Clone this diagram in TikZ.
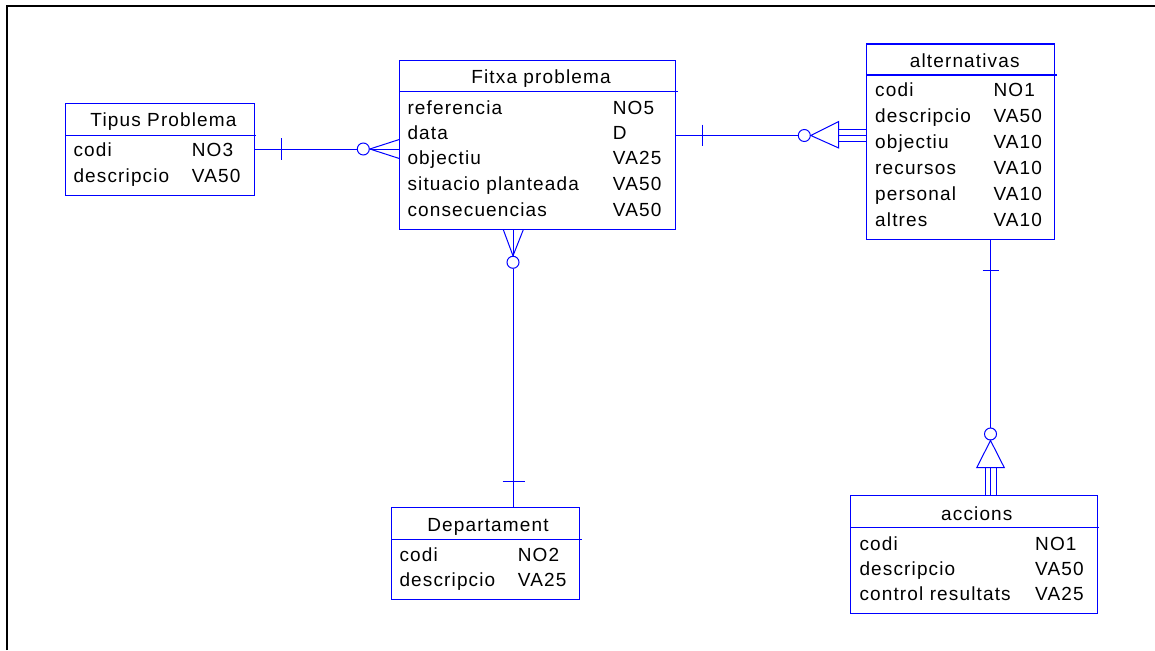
\documentclass[tikz,border=0pt]{standalone}
\usepackage{fontspec}
\newfontfamily\erfont{Liberation Sans}[LetterSpace=6]
\usetikzlibrary{calc}
\definecolor{erblue}{RGB}{0,0,255}
\definecolor{ertext}{RGB}{0,0,0}
\begin{document}
\begin{tikzpicture}[x=1pt,y=-1pt,
  ent/.style={rectangle,inner sep=0pt,anchor=north west},
  box/.style={draw=erblue,line width=1.2pt},
  rel/.style={draw=erblue,line width=1pt},
  txt/.style={inner sep=0pt,anchor=base west,text=ertext,font=\erfont\fontsize{19}{23}\selectfont},
  ttl/.style={inner sep=0pt,anchor=base,text=ertext,font=\erfont\fontsize{19}{23}\selectfont},
  circ/.style={circle,draw=erblue,line width=1pt,minimum size=12pt,inner sep=0pt}]
\useasboundingbox (0,0) rectangle (1155,650);
\draw[line width=1.6pt] (6.8,650) -- (6.8,6.3) -- (1155,6.3);

% ---------- Tipus Problema ----------
\node[ent,minimum width=188pt,minimum height=92pt] (tipus) at (65.7,103.3) {};
\draw[box] (tipus.north west) rectangle (tipus.south east);
\draw[box] (65.7,135.3) -- (256,135.3);
\node[ttl] (tipusT) at (163.5,126.7) {Tipus Problema};
\node[txt] (tipusA1) at (73.3,156.7) {codi};
\node[txt] (tipusB1) at (191.7,156.7) {NO3};
\node[txt] (tipusA2) at (73.3,182.7) {descripcio};
\node[txt] (tipusB2) at (191.7,182.7) {VA50};

% ---------- Fitxa problema ----------
\node[ent,minimum width=276pt,minimum height=169pt] (fitxa) at (399.3,60.3) {};
\draw[box] (fitxa.north west) rectangle (fitxa.south east);
\draw[box] (399.3,91.3) -- (677.7,91.3);
\node[ttl] (fitxaT) at (541,84) {Fitxa problema};
\node[txt] (fitxaA1) at (407.3,114.3) {referencia};
\node[txt] (fitxaB1) at (612.7,114.3) {NO5};
\node[txt] (fitxaA2) at (407.3,139.5) {data};
\node[txt] (fitxaB2) at (612.7,139.5) {D};
\node[txt] (fitxaA3) at (407.3,164.8) {objectiu};
\node[txt] (fitxaB3) at (612.7,164.8) {VA25};
\node[txt] (fitxaA4) at (407.3,190.4) {situacio planteada};
\node[txt] (fitxaB4) at (612.7,190.4) {VA50};
\node[txt] (fitxaA5) at (407.3,216) {consecuencias};
\node[txt] (fitxaB5) at (612.7,216) {VA50};

% ---------- alternativas ----------
\node[ent,minimum width=187.6pt,minimum height=194.7pt] (alt) at (866.7,44) {};
\draw[box] (alt.north west) rectangle (alt.south east);
\draw[box] (866.7,75) -- (1056.7,75);
\node[ttl] (altT) at (964.7,67.3) {alternativas};
\node[txt] (altA1) at (875,96.7) {codi};
\node[txt] (altB1) at (993.3,96.7) {NO1};
\node[txt] (altA2) at (875,122.5) {descripcio};
\node[txt] (altB2) at (993.3,122.5) {VA50};
\node[txt] (altA3) at (875,148.4) {objectiu};
\node[txt] (altB3) at (993.3,148.4) {VA10};
\node[txt] (altA4) at (875,174.4) {recursos};
\node[txt] (altB4) at (993.3,174.4) {VA10};
\node[txt] (altA5) at (875,200.6) {personal};
\node[txt] (altB5) at (993.3,200.6) {VA10};
\node[txt] (altA6) at (875,226.7) {altres};
\node[txt] (altB6) at (993.3,226.7) {VA10};

% ---------- accions ----------
\node[ent,minimum width=246pt,minimum height=117pt] (acc) at (850.7,495.7) {};
\draw[box] (acc.north west) rectangle (acc.south east);
\draw[box] (850.7,527.3) -- (1099,527.3);
\node[ttl] (accT) at (976.8,520) {accions};
\node[txt] (accA1) at (859.3,550) {codi};
\node[txt] (accB1) at (1035,550) {NO1};
\node[txt] (accA2) at (859.3,575) {descripcio};
\node[txt] (accB2) at (1035,575) {VA50};
\node[txt] (accA3) at (859.3,600) {control resultats};
\node[txt] (accB3) at (1035,600) {VA25};

% ---------- Departament ----------
\node[ent,minimum width=188pt,minimum height=91.7pt] (dep) at (391.3,507.3) {};
\draw[box] (dep.north west) rectangle (dep.south east);
\draw[box] (391.3,539.7) -- (581.7,539.7);
\node[ttl] (depT) at (488,531.7) {Departament};
\node[txt] (depA1) at (399.3,561.7) {codi};
\node[txt] (depB1) at (517.7,561.7) {NO2};
\node[txt] (depA2) at (399.3,586.7) {descripcio};
\node[txt] (depB2) at (517.7,586.7) {VA25};

% ---------- Tipus -- Fitxa ----------
\node[circ] (o1) at (363.3,149) {};
\draw[rel] (tipus.east |- o1) -- (o1.west);
\draw[rel] (281,138) -- (281,160);
\draw[rel] (o1.east) -- (fitxa.west |- 0,139.5);
\draw[rel] (o1.east) -- (fitxa.west |- o1);
\draw[rel] (o1.east) -- (fitxa.west |- 0,158.5);

% ---------- Fitxa -- alternativas ----------
\node[circ] (o2) at (804.3,135.5) {};
\draw[rel] (fitxa.east |- o2) -- (o2.west);
\draw[rel] (702.7,124.5) -- (702.7,146);
\draw[rel] (o2.east) -- (838.7,121.5) -- (838.7,148) -- cycle;
\draw[rel] (838.7,129.6) -- (alt.west |- 0,129.6);
\draw[rel] (838.7,135.5) -- (alt.west |- o2);
\draw[rel] (838.7,141.2) -- (alt.west |- 0,141.2);

% ---------- alternativas -- accions ----------
\node[circ] (o3) at (990.5,434) {};
\draw[rel] (alt.south -| o3) -- (o3.north);
\draw[rel] (982.5,270) -- (998.5,270);
\draw[rel] (o3.south) -- (976.7,467.7) -- (1004.3,467.7) -- cycle;
\draw[rel] (985,467.7) -- (acc.north -| 985,0);
\draw[rel] (990.5,467.7) -- (acc.north -| o3);
\draw[rel] (996,467.7) -- (acc.north -| 996,0);

% ---------- Fitxa -- Departament ----------
\node[circ] (o4) at (513,262.3) {};
\draw[rel] (fitxa.south -| 503.3,0) -- (o4.north);
\draw[rel] (fitxa.south -| o4) -- (o4.north);
\draw[rel] (fitxa.south -| 523.3,0) -- (o4.north);
\draw[rel] (o4.south) -- (dep.north -| o4);
\draw[rel] (502.7,481.7) -- (525.3,481.7);
\end{tikzpicture}
\end{document}
